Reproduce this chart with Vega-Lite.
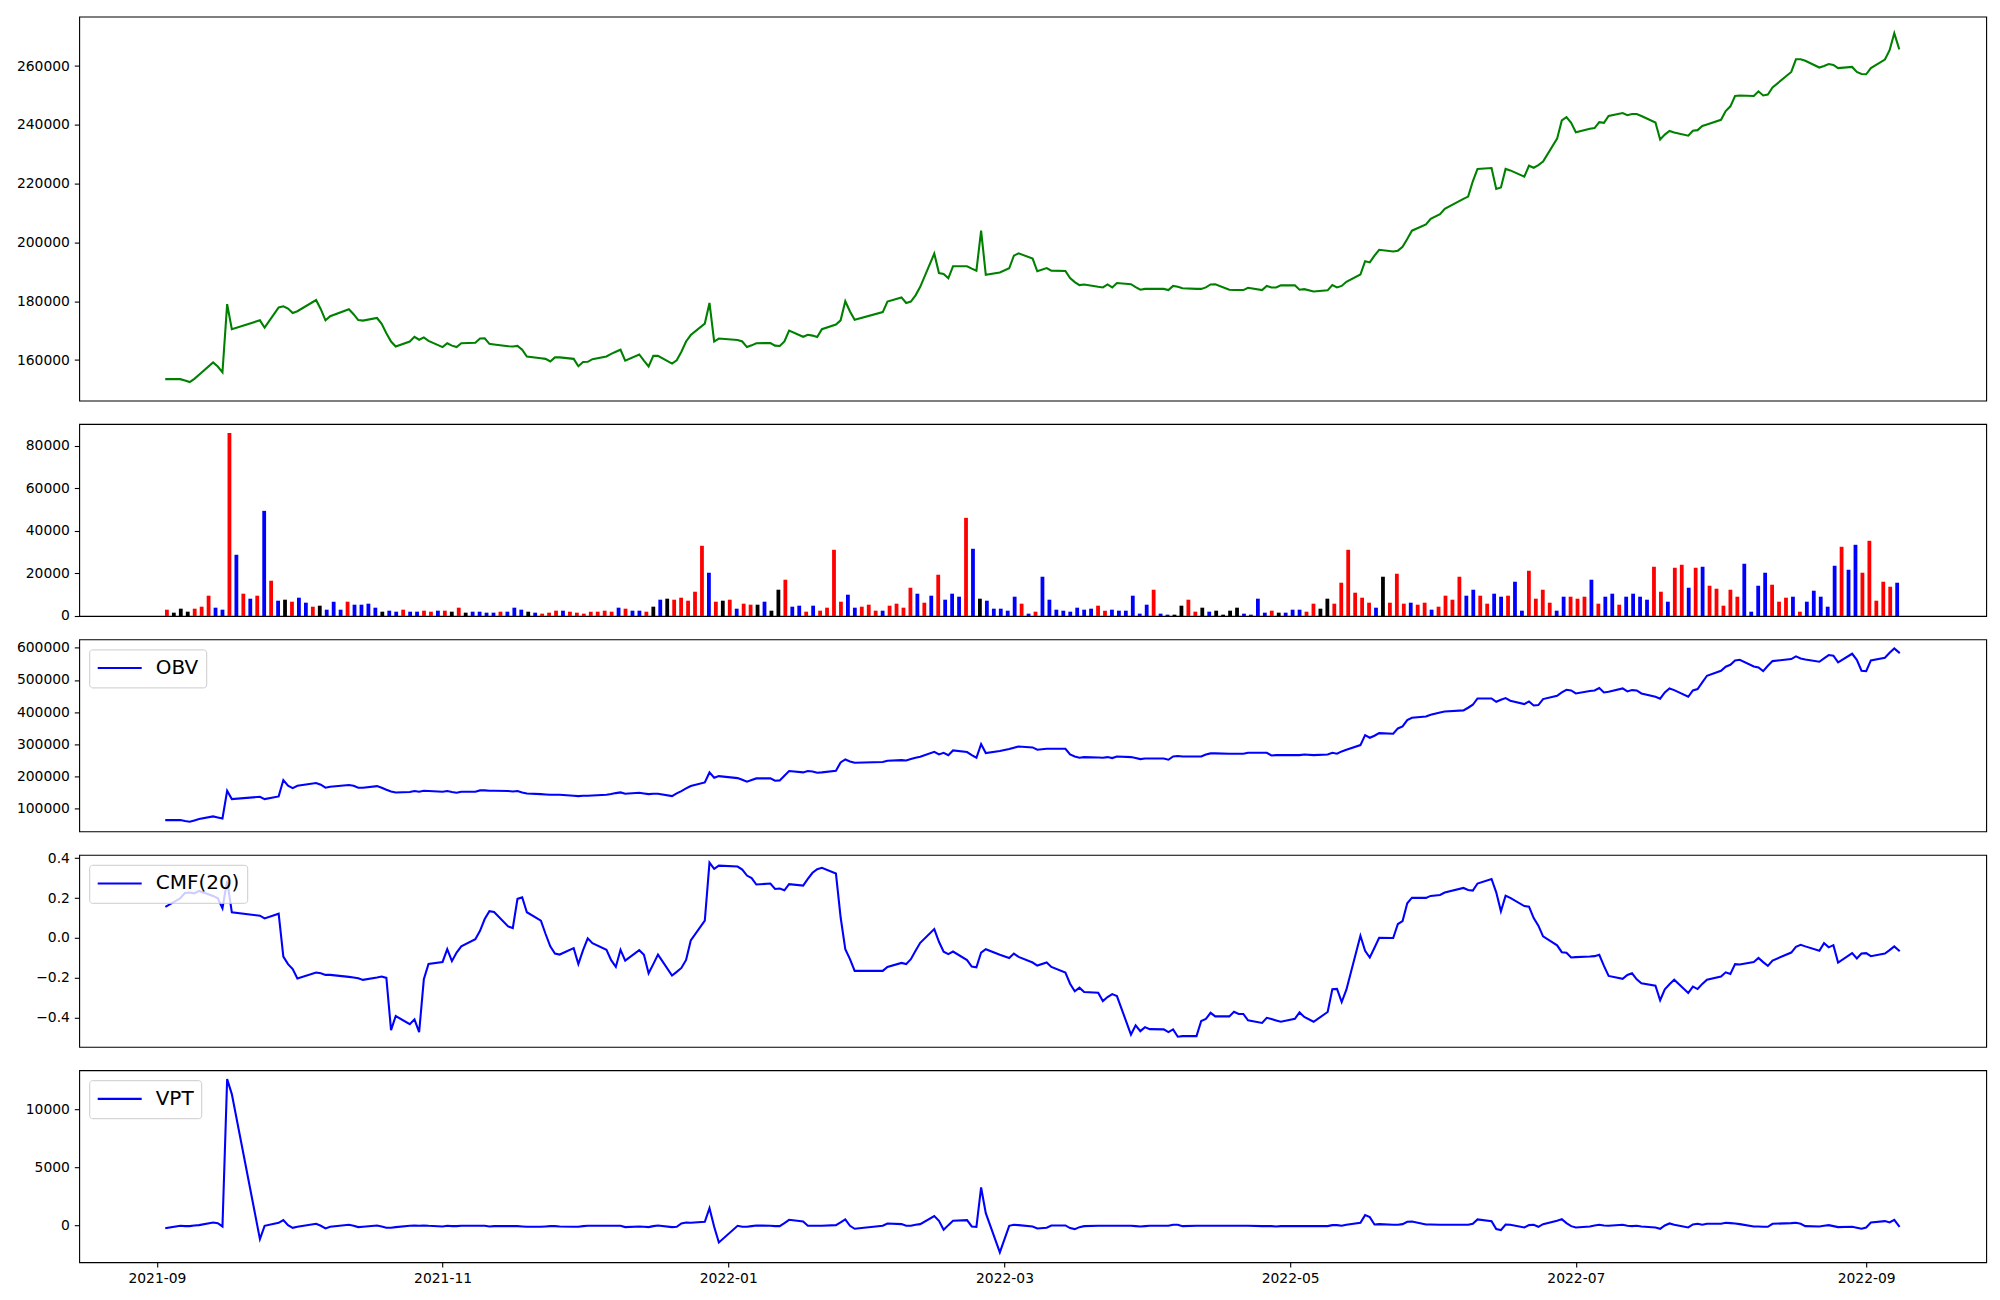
{
"$schema":"https://vega.github.io/schema/vega-lite/v6.json",
"background":"white",
"padding":{"left":15.2,"top":15.6,"right":10,"bottom":10},
"spacing":23.4,
"bounds":"flush",
"config":{
"view":{"stroke":"#000000","strokeWidth":1.1},
"axis":{"labelFont":"DejaVu Sans","labelFontSize":13.9,"labelColor":"#000000","tickColor":"#000000","tickSize":4.9,"tickWidth":1.1,"labelPadding":4.9,"domain":false,"grid":false,"labelFlush":false,"labelOverlap":false},
"legend":{"orient":"top-left","offset":10,"padding":7,"strokeColor":"#cccccc","fillColor":"rgba(255,255,255,0.8)","cornerRadius":3,"labelFont":"DejaVu Sans","labelFontSize":20,"labelColor":"#000000","symbolType":"stroke","symbolSize":1936,"symbolStrokeWidth":2.08,"labelOffset":12.5,"clipHeight":23.3}
},
"resolve":{"scale":{"x":"independent","y":"independent","color":"independent"},"legend":{"color":"independent"}},
"datasets":{"d":[
{"date":"2021-09-03","close":153500,"vol":2970,"dir":"up","obv":63900,"cmf":0.159,"vpt":-215},
{"date":"2021-09-06","close":153500,"vol":1570,"dir":"flat","obv":63900,"cmf":0.199,"vpt":-15},
{"date":"2021-09-07","close":153000,"vol":3440,"dir":"flat","obv":60800,"cmf":0.226,"vpt":-43},
{"date":"2021-09-08","close":152500,"vol":2030,"dir":"flat","obv":58800,"cmf":0.228,"vpt":-43},
{"date":"2021-09-09","close":153600,"vol":3440,"dir":"up","obv":63000,"cmf":0.224,"vpt":14},
{"date":"2021-09-10","close":155000,"vol":4380,"dir":"up","obv":67100,"cmf":0.236,"vpt":43},
{"date":"2021-09-13","close":159200,"vol":9550,"dir":"up","obv":75300,"cmf":0.211,"vpt":273},
{"date":"2021-09-14","close":157800,"vol":3910,"dir":"down","obv":72300,"cmf":0.199,"vpt":215},
{"date":"2021-09-15","close":155800,"vol":2970,"dir":"down","obv":69100,"cmf":0.149,"vpt":-72},
{"date":"2021-09-16","close":179000,"vol":86080,"dir":"up","obv":155200,"cmf":0.288,"vpt":12620},
{"date":"2021-09-17","close":170500,"vol":28800,"dir":"down","obv":129300,"cmf":0.129,"vpt":11330},
{"date":"2021-09-23","close":173500,"vol":10490,"dir":"up","obv":136500,"cmf":0.112,"vpt":-1160},
{"date":"2021-09-24","close":171000,"vol":8140,"dir":"down","obv":129300,"cmf":0.098,"vpt":-15},
{"date":"2021-09-27","close":177900,"vol":9550,"dir":"up","obv":137600,"cmf":0.122,"vpt":244},
{"date":"2021-09-28","close":178300,"vol":49450,"dir":"down","obv":188400,"cmf":-0.093,"vpt":474},
{"date":"2021-09-29","close":177500,"vol":16590,"dir":"up","obv":170800,"cmf":-0.131,"vpt":43},
{"date":"2021-09-30","close":176000,"vol":7200,"dir":"down","obv":163500,"cmf":-0.156,"vpt":-187},
{"date":"2021-10-01","close":176600,"vol":7670,"dir":"flat","obv":170800,"cmf":-0.203,"vpt":-100},
{"date":"2021-10-05","close":180400,"vol":6730,"dir":"up","obv":179100,"cmf":-0.173,"vpt":158},
{"date":"2021-10-06","close":177300,"vol":8610,"dir":"down","obv":173900,"cmf":-0.177,"vpt":-15},
{"date":"2021-10-07","close":173500,"vol":6260,"dir":"down","obv":164600,"cmf":-0.185,"vpt":-244},
{"date":"2021-10-08","close":174900,"vol":4380,"dir":"up","obv":167700,"cmf":-0.185,"vpt":-100},
{"date":"2021-10-12","close":177300,"vol":4850,"dir":"flat","obv":172900,"cmf":-0.195,"vpt":72},
{"date":"2021-10-13","close":175600,"vol":2970,"dir":"down","obv":170800,"cmf":-0.198,"vpt":-15},
{"date":"2021-10-14","close":173600,"vol":6730,"dir":"down","obv":164600,"cmf":-0.202,"vpt":-129},
{"date":"2021-10-15","close":173400,"vol":2970,"dir":"down","obv":164600,"cmf":-0.210,"vpt":-100},
{"date":"2021-10-18","close":174300,"vol":6730,"dir":"up","obv":169700,"cmf":-0.198,"vpt":14},
{"date":"2021-10-19","close":172300,"vol":5320,"dir":"down","obv":164600,"cmf":-0.193,"vpt":-72},
{"date":"2021-10-20","close":169100,"vol":5320,"dir":"down","obv":158300,"cmf":-0.200,"vpt":-187},
{"date":"2021-10-21","close":166300,"vol":5790,"dir":"down","obv":153100,"cmf":-0.462,"vpt":-187},
{"date":"2021-10-22","close":164600,"vol":3910,"dir":"down","obv":150000,"cmf":-0.391,"vpt":-129},
{"date":"2021-10-25","close":166300,"vol":2030,"dir":"flat","obv":151100,"cmf":-0.432,"vpt":-15},
{"date":"2021-10-26","close":167900,"vol":2500,"dir":"down","obv":154200,"cmf":-0.408,"vpt":14},
{"date":"2021-10-27","close":166900,"vol":2030,"dir":"down","obv":152100,"cmf":-0.472,"vpt":-15},
{"date":"2021-10-28","close":167700,"vol":2970,"dir":"up","obv":155200,"cmf":-0.207,"vpt":14},
{"date":"2021-10-29","close":166500,"vol":2030,"dir":"down","obv":154200,"cmf":-0.130,"vpt":-15},
{"date":"2021-11-01","close":164400,"vol":2030,"dir":"down","obv":152100,"cmf":-0.120,"vpt":-72},
{"date":"2021-11-02","close":165700,"vol":2500,"dir":"up","obv":154200,"cmf":-0.056,"vpt":-15},
{"date":"2021-11-03","close":164900,"vol":2030,"dir":"up","obv":151100,"cmf":-0.116,"vpt":-43},
{"date":"2021-11-04","close":164400,"vol":2500,"dir":"down","obv":149000,"cmf":-0.073,"vpt":-43},
{"date":"2021-11-05","close":165700,"vol":2500,"dir":"up","obv":152100,"cmf":-0.042,"vpt":-15},
{"date":"2021-11-08","close":165900,"vol":2030,"dir":"flat","obv":152100,"cmf":-0.006,"vpt":-15},
{"date":"2021-11-09","close":167300,"vol":3910,"dir":"up","obv":156300,"cmf":0.036,"vpt":-15},
{"date":"2021-11-10","close":167400,"vol":1570,"dir":"flat","obv":156300,"cmf":0.095,"vpt":-15},
{"date":"2021-11-11","close":165500,"vol":2030,"dir":"down","obv":155200,"cmf":0.134,"vpt":-72},
{"date":"2021-11-12","close":165300,"vol":2030,"dir":"down","obv":155200,"cmf":0.130,"vpt":-43},
{"date":"2021-11-15","close":164700,"vol":1570,"dir":"down","obv":154200,"cmf":0.058,"vpt":-43},
{"date":"2021-11-16","close":164600,"vol":1570,"dir":"down","obv":153100,"cmf":0.050,"vpt":-43},
{"date":"2021-11-17","close":164800,"vol":2030,"dir":"up","obv":154200,"cmf":0.196,"vpt":-43},
{"date":"2021-11-18","close":163500,"vol":2030,"dir":"down","obv":150000,"cmf":0.204,"vpt":-72},
{"date":"2021-11-19","close":161200,"vol":3910,"dir":"down","obv":146900,"cmf":0.129,"vpt":-100},
{"date":"2021-11-22","close":160600,"vol":2970,"dir":"down","obv":144800,"cmf":0.087,"vpt":-100},
{"date":"2021-11-23","close":160400,"vol":2030,"dir":"flat","obv":143800,"cmf":0.020,"vpt":-72},
{"date":"2021-11-24","close":159500,"vol":1570,"dir":"down","obv":142800,"cmf":-0.042,"vpt":-43},
{"date":"2021-11-25","close":160900,"vol":1100,"dir":"up","obv":142800,"cmf":-0.078,"vpt":-43},
{"date":"2021-11-26","close":160900,"vol":1570,"dir":"up","obv":142800,"cmf":-0.083,"vpt":-72},
{"date":"2021-11-29","close":160400,"vol":2500,"dir":"up","obv":139700,"cmf":-0.051,"vpt":-100},
{"date":"2021-11-30","close":157900,"vol":2500,"dir":"down","obv":138600,"cmf":-0.131,"vpt":-100},
{"date":"2021-12-01","close":159300,"vol":2030,"dir":"up","obv":139700,"cmf":-0.061,"vpt":-43},
{"date":"2021-12-02","close":159400,"vol":1570,"dir":"up","obv":139700,"cmf":-0.002,"vpt":-15},
{"date":"2021-12-03","close":160300,"vol":1100,"dir":"up","obv":140700,"cmf":-0.026,"vpt":-15},
{"date":"2021-12-06","close":161200,"vol":2030,"dir":"up","obv":142800,"cmf":-0.059,"vpt":-15},
{"date":"2021-12-07","close":162100,"vol":2030,"dir":"up","obv":144800,"cmf":-0.111,"vpt":-15},
{"date":"2021-12-08","close":162800,"vol":2500,"dir":"up","obv":147900,"cmf":-0.145,"vpt":-15},
{"date":"2021-12-09","close":163500,"vol":2030,"dir":"up","obv":150000,"cmf":-0.059,"vpt":-15},
{"date":"2021-12-10","close":159800,"vol":3910,"dir":"down","obv":145900,"cmf":-0.113,"vpt":-129},
{"date":"2021-12-13","close":161900,"vol":3440,"dir":"up","obv":149000,"cmf":-0.061,"vpt":-72},
{"date":"2021-12-14","close":159800,"vol":2500,"dir":"down","obv":146900,"cmf":-0.084,"vpt":-100},
{"date":"2021-12-15","close":157800,"vol":2500,"dir":"down","obv":144800,"cmf":-0.177,"vpt":-129},
{"date":"2021-12-16","close":161400,"vol":2030,"dir":"up","obv":145900,"cmf":-0.131,"vpt":-43},
{"date":"2021-12-17","close":161400,"vol":4380,"dir":"flat","obv":145900,"cmf":-0.083,"vpt":14},
{"date":"2021-12-20","close":158800,"vol":7670,"dir":"down","obv":138600,"cmf":-0.188,"vpt":-129},
{"date":"2021-12-21","close":159900,"vol":8140,"dir":"flat","obv":146900,"cmf":-0.170,"vpt":-100},
{"date":"2021-12-22","close":162800,"vol":7670,"dir":"up","obv":154200,"cmf":-0.150,"vpt":187},
{"date":"2021-12-23","close":166300,"vol":8610,"dir":"up","obv":162500,"cmf":-0.110,"vpt":273},
{"date":"2021-12-24","close":168500,"vol":7200,"dir":"up","obv":169700,"cmf":-0.012,"vpt":244},
{"date":"2021-12-27","close":172400,"vol":11420,"dir":"up","obv":181100,"cmf":0.087,"vpt":330},
{"date":"2021-12-28","close":179400,"vol":33020,"dir":"up","obv":212200,"cmf":0.378,"vpt":1507},
{"date":"2021-12-29","close":166300,"vol":20350,"dir":"down","obv":195600,"cmf":0.347,"vpt":-100},
{"date":"2021-12-30","close":167300,"vol":6730,"dir":"up","obv":200800,"cmf":0.363,"vpt":-1450},
{"date":"2022-01-03","close":166800,"vol":7200,"dir":"flat","obv":194600,"cmf":0.358,"vpt":-15},
{"date":"2022-01-04","close":166300,"vol":7670,"dir":"up","obv":189400,"cmf":0.343,"vpt":-100},
{"date":"2022-01-05","close":164400,"vol":3440,"dir":"down","obv":183200,"cmf":0.313,"vpt":-100},
{"date":"2022-01-06","close":165000,"vol":5790,"dir":"up","obv":188400,"cmf":0.300,"vpt":-43},
{"date":"2022-01-07","close":165700,"vol":5320,"dir":"up","obv":193600,"cmf":0.268,"vpt":14},
{"date":"2022-01-10","close":165800,"vol":5320,"dir":"flat","obv":193600,"cmf":0.273,"vpt":-15},
{"date":"2022-01-11","close":164900,"vol":6730,"dir":"down","obv":186300,"cmf":0.246,"vpt":-43},
{"date":"2022-01-12","close":164800,"vol":2500,"dir":"flat","obv":187400,"cmf":0.248,"vpt":-43},
{"date":"2022-01-13","close":166300,"vol":12360,"dir":"flat","obv":201900,"cmf":0.239,"vpt":215},
{"date":"2022-01-14","close":170000,"vol":17060,"dir":"up","obv":216400,"cmf":0.270,"vpt":502},
{"date":"2022-01-17","close":167900,"vol":4380,"dir":"down","obv":212300,"cmf":0.263,"vpt":359},
{"date":"2022-01-18","close":168600,"vol":4850,"dir":"down","obv":216400,"cmf":0.296,"vpt":-15},
{"date":"2022-01-19","close":168300,"vol":2030,"dir":"up","obv":215400,"cmf":0.327,"vpt":-15},
{"date":"2022-01-20","close":167800,"vol":4850,"dir":"down","obv":211200,"cmf":0.345,"vpt":-15},
{"date":"2022-01-21","close":170500,"vol":2500,"dir":"up","obv":212300,"cmf":0.352,"vpt":-15},
{"date":"2022-01-24","close":172100,"vol":3910,"dir":"up","obv":217400,"cmf":0.323,"vpt":43},
{"date":"2022-01-25","close":173500,"vol":31140,"dir":"up","obv":243400,"cmf":0.104,"vpt":273},
{"date":"2022-01-26","close":180000,"vol":6730,"dir":"up","obv":252700,"cmf":-0.056,"vpt":531},
{"date":"2022-01-27","close":176500,"vol":10020,"dir":"down","obv":246500,"cmf":-0.106,"vpt":-15},
{"date":"2022-01-28","close":173700,"vol":3910,"dir":"down","obv":242300,"cmf":-0.165,"vpt":-273},
{"date":"2022-02-03","close":176300,"vol":4380,"dir":"up","obv":244400,"cmf":-0.165,"vpt":-15},
{"date":"2022-02-04","close":179900,"vol":5320,"dir":"up","obv":248500,"cmf":-0.145,"vpt":187},
{"date":"2022-02-07","close":181300,"vol":2500,"dir":"up","obv":250600,"cmf":-0.125,"vpt":129},
{"date":"2022-02-08","close":179400,"vol":2500,"dir":"down","obv":249600,"cmf":-0.131,"vpt":-15},
{"date":"2022-02-09","close":179900,"vol":4850,"dir":"up","obv":253700,"cmf":-0.106,"vpt":-15},
{"date":"2022-02-10","close":182000,"vol":5790,"dir":"up","obv":257900,"cmf":-0.064,"vpt":72},
{"date":"2022-02-11","close":184900,"vol":3910,"dir":"up","obv":261000,"cmf":-0.024,"vpt":129},
{"date":"2022-02-14","close":196200,"vol":13300,"dir":"up","obv":276500,"cmf":0.045,"vpt":818},
{"date":"2022-02-15","close":189600,"vol":10490,"dir":"down","obv":268200,"cmf":-0.019,"vpt":416},
{"date":"2022-02-16","close":189300,"vol":6260,"dir":"up","obv":273400,"cmf":-0.069,"vpt":-359},
{"date":"2022-02-17","close":187800,"vol":9550,"dir":"down","obv":266100,"cmf":-0.081,"vpt":43},
{"date":"2022-02-18","close":191900,"vol":19410,"dir":"up","obv":280700,"cmf":-0.068,"vpt":416},
{"date":"2022-02-21","close":191900,"vol":7670,"dir":"down","obv":275500,"cmf":-0.111,"vpt":474},
{"date":"2022-02-22","close":191100,"vol":10490,"dir":"down","obv":266100,"cmf":-0.143,"vpt":-72},
{"date":"2022-02-23","close":190400,"vol":9080,"dir":"down","obv":257900,"cmf":-0.147,"vpt":-100},
{"date":"2022-02-24","close":204000,"vol":46170,"dir":"up","obv":300400,"cmf":-0.073,"vpt":3287},
{"date":"2022-02-25","close":189000,"vol":31610,"dir":"down","obv":272400,"cmf":-0.056,"vpt":1077},
{"date":"2022-02-28","close":189800,"vol":8140,"dir":"flat","obv":278600,"cmf":-0.084,"vpt":-2311},
{"date":"2022-03-02","close":191200,"vol":7200,"dir":"down","obv":284800,"cmf":-0.100,"vpt":-15},
{"date":"2022-03-03","close":195500,"vol":3440,"dir":"down","obv":289000,"cmf":-0.078,"vpt":72},
{"date":"2022-03-04","close":196300,"vol":3440,"dir":"down","obv":293100,"cmf":-0.095,"vpt":43},
{"date":"2022-03-07","close":194500,"vol":2500,"dir":"down","obv":290000,"cmf":-0.123,"vpt":-72},
{"date":"2022-03-08","close":190200,"vol":9080,"dir":"down","obv":282800,"cmf":-0.138,"vpt":-244},
{"date":"2022-03-10","close":191300,"vol":5790,"dir":"up","obv":285900,"cmf":-0.123,"vpt":-187},
{"date":"2022-03-11","close":190400,"vol":1100,"dir":"down","obv":285900,"cmf":-0.145,"vpt":14},
{"date":"2022-03-14","close":190300,"vol":2030,"dir":"up","obv":285900,"cmf":-0.173,"vpt":14},
{"date":"2022-03-15","close":187900,"vol":18470,"dir":"down","obv":268200,"cmf":-0.229,"vpt":-215},
{"date":"2022-03-16","close":186500,"vol":7670,"dir":"down","obv":262000,"cmf":-0.267,"vpt":-301},
{"date":"2022-03-17","close":185500,"vol":2970,"dir":"down","obv":257900,"cmf":-0.249,"vpt":-129},
{"date":"2022-03-18","close":185700,"vol":2500,"dir":"down","obv":259900,"cmf":-0.271,"vpt":-43},
{"date":"2022-03-21","close":184900,"vol":2030,"dir":"down","obv":258900,"cmf":-0.274,"vpt":-15},
{"date":"2022-03-22","close":184700,"vol":3910,"dir":"down","obv":257900,"cmf":-0.316,"vpt":-15},
{"date":"2022-03-23","close":185700,"vol":2970,"dir":"down","obv":259900,"cmf":-0.296,"vpt":-15},
{"date":"2022-03-24","close":184700,"vol":3440,"dir":"down","obv":256800,"cmf":-0.281,"vpt":-15},
{"date":"2022-03-25","close":186200,"vol":4850,"dir":"up","obv":262000,"cmf":-0.291,"vpt":-15},
{"date":"2022-03-28","close":185800,"vol":2500,"dir":"up","obv":259900,"cmf":-0.484,"vpt":-15},
{"date":"2022-03-29","close":184800,"vol":2970,"dir":"down","obv":256800,"cmf":-0.438,"vpt":-43},
{"date":"2022-03-30","close":183900,"vol":2500,"dir":"down","obv":253700,"cmf":-0.467,"vpt":-72},
{"date":"2022-03-31","close":184200,"vol":2500,"dir":"down","obv":255800,"cmf":-0.447,"vpt":-43},
{"date":"2022-04-01","close":184200,"vol":9550,"dir":"down","obv":255800,"cmf":-0.457,"vpt":-15},
{"date":"2022-04-04","close":184200,"vol":1100,"dir":"down","obv":255800,"cmf":-0.458,"vpt":-15},
{"date":"2022-04-05","close":183800,"vol":5320,"dir":"down","obv":251700,"cmf":-0.472,"vpt":-15},
{"date":"2022-04-06","close":185200,"vol":12360,"dir":"up","obv":262000,"cmf":-0.458,"vpt":72},
{"date":"2022-04-07","close":184900,"vol":1100,"dir":"down","obv":263100,"cmf":-0.495,"vpt":72},
{"date":"2022-04-08","close":184400,"vol":630,"dir":"down","obv":262000,"cmf":-0.492,"vpt":-43},
{"date":"2022-04-11","close":184200,"vol":630,"dir":"flat","obv":262000,"cmf":-0.492,"vpt":-15},
{"date":"2022-04-12","close":184200,"vol":4850,"dir":"flat","obv":262000,"cmf":-0.416,"vpt":-15},
{"date":"2022-04-13","close":184700,"vol":7670,"dir":"up","obv":268200,"cmf":-0.406,"vpt":-15},
{"date":"2022-04-14","close":185700,"vol":2030,"dir":"up","obv":271400,"cmf":-0.375,"vpt":-15},
{"date":"2022-04-15","close":185800,"vol":3910,"dir":"flat","obv":271400,"cmf":-0.393,"vpt":-15},
{"date":"2022-04-18","close":183900,"vol":2030,"dir":"down","obv":270300,"cmf":-0.393,"vpt":-15},
{"date":"2022-04-19","close":183800,"vol":2500,"dir":"flat","obv":270300,"cmf":-0.370,"vpt":-15},
{"date":"2022-04-20","close":183800,"vol":630,"dir":"flat","obv":270300,"cmf":-0.381,"vpt":-15},
{"date":"2022-04-21","close":183800,"vol":2500,"dir":"flat","obv":270300,"cmf":-0.381,"vpt":-15},
{"date":"2022-04-22","close":184600,"vol":3910,"dir":"flat","obv":273400,"cmf":-0.413,"vpt":-15},
{"date":"2022-04-25","close":183800,"vol":1100,"dir":"down","obv":273400,"cmf":-0.426,"vpt":-43},
{"date":"2022-04-26","close":185200,"vol":630,"dir":"down","obv":273400,"cmf":-0.400,"vpt":-43},
{"date":"2022-04-27","close":184700,"vol":8140,"dir":"down","obv":265100,"cmf":-0.406,"vpt":-43},
{"date":"2022-04-28","close":184700,"vol":1570,"dir":"down","obv":266100,"cmf":-0.413,"vpt":-72},
{"date":"2022-04-29","close":185400,"vol":2500,"dir":"up","obv":266100,"cmf":-0.420,"vpt":-43},
{"date":"2022-05-02","close":185400,"vol":1570,"dir":"flat","obv":266100,"cmf":-0.405,"vpt":-43},
{"date":"2022-05-03","close":183900,"vol":1570,"dir":"down","obv":266100,"cmf":-0.373,"vpt":-43},
{"date":"2022-05-04","close":184100,"vol":2970,"dir":"down","obv":268200,"cmf":-0.396,"vpt":-43},
{"date":"2022-05-06","close":183300,"vol":2970,"dir":"down","obv":266100,"cmf":-0.420,"vpt":-43},
{"date":"2022-05-09","close":183700,"vol":2030,"dir":"up","obv":268200,"cmf":-0.371,"vpt":-43},
{"date":"2022-05-10","close":185500,"vol":5790,"dir":"up","obv":273400,"cmf":-0.257,"vpt":43},
{"date":"2022-05-11","close":184700,"vol":3440,"dir":"flat","obv":270300,"cmf":-0.255,"vpt":43},
{"date":"2022-05-12","close":185200,"vol":8140,"dir":"flat","obv":277600,"cmf":-0.321,"vpt":-15},
{"date":"2022-05-13","close":186600,"vol":5790,"dir":"up","obv":282800,"cmf":-0.259,"vpt":72},
{"date":"2022-05-16","close":189100,"vol":15650,"dir":"up","obv":297300,"cmf":0.011,"vpt":244},
{"date":"2022-05-17","close":193600,"vol":31140,"dir":"up","obv":328400,"cmf":-0.064,"vpt":904},
{"date":"2022-05-18","close":193200,"vol":10960,"dir":"up","obv":320100,"cmf":-0.098,"vpt":732},
{"date":"2022-05-19","close":195500,"vol":8610,"dir":"up","obv":326300,"cmf":-0.049,"vpt":100},
{"date":"2022-05-20","close":197500,"vol":6260,"dir":"up","obv":334600,"cmf":0.001,"vpt":129},
{"date":"2022-05-23","close":196900,"vol":3910,"dir":"down","obv":332500,"cmf":0.000,"vpt":72},
{"date":"2022-05-24","close":197200,"vol":18470,"dir":"flat","obv":349100,"cmf":0.070,"vpt":72},
{"date":"2022-05-25","close":198500,"vol":6260,"dir":"up","obv":355400,"cmf":0.085,"vpt":129},
{"date":"2022-05-26","close":201200,"vol":19880,"dir":"up","obv":375100,"cmf":0.174,"vpt":330},
{"date":"2022-05-27","close":204000,"vol":5790,"dir":"up","obv":382300,"cmf":0.202,"vpt":359},
{"date":"2022-05-30","close":206100,"vol":6260,"dir":"down","obv":386500,"cmf":0.201,"vpt":100},
{"date":"2022-05-31","close":208000,"vol":5320,"dir":"up","obv":391600,"cmf":0.211,"vpt":100},
{"date":"2022-06-02","close":209600,"vol":6260,"dir":"up","obv":398900,"cmf":0.216,"vpt":72},
{"date":"2022-06-03","close":211400,"vol":2970,"dir":"down","obv":402000,"cmf":0.228,"vpt":72},
{"date":"2022-06-07","close":214800,"vol":4380,"dir":"up","obv":405200,"cmf":0.251,"vpt":72},
{"date":"2022-06-08","close":215600,"vol":9550,"dir":"up","obv":413500,"cmf":0.241,"vpt":72},
{"date":"2022-06-09","close":220800,"vol":7670,"dir":"up","obv":422800,"cmf":0.238,"vpt":158},
{"date":"2022-06-10","close":225000,"vol":18470,"dir":"up","obv":442500,"cmf":0.273,"vpt":531},
{"date":"2022-06-13","close":225300,"vol":9550,"dir":"down","obv":442500,"cmf":0.296,"vpt":388},
{"date":"2022-06-14","close":218200,"vol":12360,"dir":"down","obv":432100,"cmf":0.229,"vpt":-301},
{"date":"2022-06-15","close":218700,"vol":9550,"dir":"up","obv":438300,"cmf":0.134,"vpt":-388},
{"date":"2022-06-16","close":225000,"vol":5790,"dir":"up","obv":443500,"cmf":0.212,"vpt":100},
{"date":"2022-06-17","close":224500,"vol":10490,"dir":"down","obv":435200,"cmf":0.201,"vpt":72},
{"date":"2022-06-20","close":222400,"vol":9080,"dir":"down","obv":424900,"cmf":0.160,"vpt":-158},
{"date":"2022-06-21","close":226100,"vol":9550,"dir":"up","obv":433200,"cmf":0.157,"vpt":43},
{"date":"2022-06-22","close":225400,"vol":16120,"dir":"down","obv":420700,"cmf":0.100,"vpt":72},
{"date":"2022-06-23","close":226300,"vol":2500,"dir":"down","obv":421700,"cmf":0.062,"vpt":-100},
{"date":"2022-06-24","close":227500,"vol":21280,"dir":"up","obv":440400,"cmf":0.008,"vpt":129},
{"date":"2022-06-27","close":235300,"vol":8140,"dir":"up","obv":450800,"cmf":-0.037,"vpt":416},
{"date":"2022-06-28","close":241500,"vol":12360,"dir":"up","obv":461200,"cmf":-0.071,"vpt":560},
{"date":"2022-06-29","close":242600,"vol":6260,"dir":"up","obv":469400,"cmf":-0.074,"vpt":215},
{"date":"2022-06-30","close":240700,"vol":2500,"dir":"down","obv":467400,"cmf":-0.098,"vpt":-43},
{"date":"2022-07-01","close":237500,"vol":9080,"dir":"down","obv":458000,"cmf":-0.096,"vpt":-158},
{"date":"2022-07-04","close":238700,"vol":9080,"dir":"up","obv":465300,"cmf":-0.093,"vpt":-72},
{"date":"2022-07-05","close":238900,"vol":8140,"dir":"up","obv":467400,"cmf":-0.091,"vpt":14},
{"date":"2022-07-06","close":240900,"vol":9080,"dir":"up","obv":474600,"cmf":-0.084,"vpt":72},
{"date":"2022-07-07","close":240700,"vol":17060,"dir":"down","obv":461200,"cmf":-0.140,"vpt":14},
{"date":"2022-07-08","close":243000,"vol":5790,"dir":"up","obv":463200,"cmf":-0.190,"vpt":-15},
{"date":"2022-07-11","close":244000,"vol":9080,"dir":"down","obv":473600,"cmf":-0.205,"vpt":72},
{"date":"2022-07-12","close":243300,"vol":10490,"dir":"down","obv":464300,"cmf":-0.185,"vpt":-15},
{"date":"2022-07-13","close":243700,"vol":5320,"dir":"up","obv":468400,"cmf":-0.177,"vpt":-43},
{"date":"2022-07-14","close":243700,"vol":9080,"dir":"down","obv":467400,"cmf":-0.207,"vpt":-15},
{"date":"2022-07-15","close":243000,"vol":10490,"dir":"down","obv":458000,"cmf":-0.227,"vpt":-72},
{"date":"2022-07-18","close":240800,"vol":9080,"dir":"down","obv":447700,"cmf":-0.239,"vpt":-158},
{"date":"2022-07-19","close":235000,"vol":7670,"dir":"down","obv":441500,"cmf":-0.312,"vpt":-273},
{"date":"2022-07-20","close":236700,"vol":23160,"dir":"up","obv":461200,"cmf":-0.257,"vpt":14},
{"date":"2022-07-21","close":237900,"vol":11420,"dir":"up","obv":473600,"cmf":-0.232,"vpt":187},
{"date":"2022-07-22","close":237400,"vol":6730,"dir":"down","obv":468400,"cmf":-0.209,"vpt":72},
{"date":"2022-07-25","close":236300,"vol":22690,"dir":"up","obv":447700,"cmf":-0.276,"vpt":-158},
{"date":"2022-07-26","close":238000,"vol":24100,"dir":"up","obv":467400,"cmf":-0.244,"vpt":100},
{"date":"2022-07-27","close":238200,"vol":13300,"dir":"down","obv":471500,"cmf":-0.256,"vpt":158},
{"date":"2022-07-28","close":239600,"vol":22690,"dir":"up","obv":492300,"cmf":-0.230,"vpt":72},
{"date":"2022-07-29","close":240100,"vol":23160,"dir":"down","obv":513000,"cmf":-0.209,"vpt":158},
{"date":"2022-08-01","close":241700,"vol":14240,"dir":"up","obv":528600,"cmf":-0.193,"vpt":158},
{"date":"2022-08-02","close":244700,"vol":12830,"dir":"up","obv":541000,"cmf":-0.172,"vpt":244},
{"date":"2022-08-03","close":246300,"vol":4850,"dir":"up","obv":547200,"cmf":-0.180,"vpt":215},
{"date":"2022-08-04","close":249800,"vol":12360,"dir":"up","obv":560700,"cmf":-0.131,"vpt":187},
{"date":"2022-08-05","close":250000,"vol":9080,"dir":"up","obv":562800,"cmf":-0.133,"vpt":129},
{"date":"2022-08-08","close":249800,"vol":24570,"dir":"down","obv":542000,"cmf":-0.120,"vpt":-72},
{"date":"2022-08-09","close":251400,"vol":2030,"dir":"down","obv":538900,"cmf":-0.100,"vpt":-72},
{"date":"2022-08-10","close":250000,"vol":14240,"dir":"down","obv":527500,"cmf":-0.121,"vpt":-100},
{"date":"2022-08-11","close":250300,"vol":20350,"dir":"down","obv":544100,"cmf":-0.140,"vpt":-100},
{"date":"2022-08-12","close":252700,"vol":14710,"dir":"up","obv":558600,"cmf":-0.113,"vpt":158},
{"date":"2022-08-16","close":258000,"vol":6730,"dir":"up","obv":564900,"cmf":-0.073,"vpt":215},
{"date":"2022-08-17","close":262300,"vol":8610,"dir":"up","obv":573200,"cmf":-0.044,"vpt":244},
{"date":"2022-08-18","close":262300,"vol":9080,"dir":"down","obv":567000,"cmf":-0.034,"vpt":158},
{"date":"2022-08-19","close":261800,"vol":2030,"dir":"up","obv":563800,"cmf":-0.042,"vpt":-43},
{"date":"2022-08-22","close":259500,"vol":6730,"dir":"down","obv":556600,"cmf":-0.064,"vpt":-72},
{"date":"2022-08-23","close":260000,"vol":11890,"dir":"down","obv":567000,"cmf":-0.026,"vpt":-15},
{"date":"2022-08-24","close":260700,"vol":9080,"dir":"down","obv":577300,"cmf":-0.047,"vpt":43},
{"date":"2022-08-25","close":260400,"vol":4380,"dir":"down","obv":575200,"cmf":-0.036,"vpt":-43},
{"date":"2022-08-26","close":259300,"vol":23630,"dir":"down","obv":554500,"cmf":-0.123,"vpt":-129},
{"date":"2022-08-29","close":259700,"vol":32550,"dir":"up","obv":581500,"cmf":-0.076,"vpt":-100},
{"date":"2022-08-30","close":258000,"vol":21750,"dir":"down","obv":562800,"cmf":-0.103,"vpt":-187},
{"date":"2022-08-31","close":257300,"vol":33490,"dir":"down","obv":528600,"cmf":-0.078,"vpt":-273},
{"date":"2022-09-01","close":257200,"vol":20350,"dir":"up","obv":527500,"cmf":-0.076,"vpt":-158},
{"date":"2022-09-02","close":259300,"vol":35370,"dir":"up","obv":560700,"cmf":-0.091,"vpt":273},
{"date":"2022-09-05","close":262200,"vol":7200,"dir":"up","obv":569000,"cmf":-0.078,"vpt":388},
{"date":"2022-09-06","close":265400,"vol":16120,"dir":"up","obv":584600,"cmf":-0.061,"vpt":273},
{"date":"2022-09-07","close":271200,"vol":13770,"dir":"up","obv":598100,"cmf":-0.042,"vpt":502},
{"date":"2022-09-08","close":266000,"vol":15650,"dir":"down","obv":585600,"cmf":-0.063,"vpt":-43}
]},
"vconcat":[
{"width":1907,"height":384,"data":{"name":"d"},
 "mark":{"type":"line","color":"#008000","strokeWidth":2.08,"strokeCap":"square"},
 "encoding":{
  "x":{"field":"date","type":"temporal","scale":{"type":"utc","domain":[{"year":2021,"month":8,"date":15,"hours":9,"minutes":47,"utc":true},{"year":2022,"month":9,"date":26,"hours":15,"utc":true}]},"axis":null},
  "y":{"field":"close","type":"quantitative","scale":{"domain":[146200,276820],"nice":false,"zero":false},"axis":{"values":[160000,180000,200000,220000,240000,260000],"format":"d","title":null}}
 }},
{"width":1907,"height":192,"data":{"name":"d"},
 "transform":[{"window":[{"op":"row_number","as":"n"}]}],
 "mark":{"type":"bar","width":3.8},
 "encoding":{
  "x":{"field":"n","type":"quantitative","scale":{"domain":[-11.62,262.81],"nice":false,"zero":false,"padding":0},"axis":null},
  "y":{"field":"vol","type":"quantitative","scale":{"domain":[0,90300],"nice":false,"padding":0},"axis":{"values":[0,20000,40000,60000,80000],"format":"d","title":null}},
  "color":{"field":"dir","type":"nominal","scale":{"domain":["up","down","flat"],"range":["#ff0000","#0000ff","#000000"]},"legend":null}
 }},
{"width":1907,"height":192,"data":{"name":"d"},
 "mark":{"type":"line","strokeWidth":2.08,"strokeCap":"square"},
 "encoding":{
  "x":{"field":"date","type":"temporal","scale":{"type":"utc","domain":[{"year":2021,"month":8,"date":15,"hours":9,"minutes":47,"utc":true},{"year":2022,"month":9,"date":26,"hours":15,"utc":true}]},"axis":null},
  "y":{"field":"obv","type":"quantitative","scale":{"domain":[28750,626130],"nice":false,"zero":false},"axis":{"values":[100000,200000,300000,400000,500000,600000],"format":"d","title":null}},
  "color":{"datum":"OBV","type":"nominal","scale":{"range":["#0000ff"]},"legend":{"title":null}}
 }},
{"width":1907,"height":192,"data":{"name":"d"},
 "mark":{"type":"line","strokeWidth":2.08,"strokeCap":"square"},
 "encoding":{
  "x":{"field":"date","type":"temporal","scale":{"type":"utc","domain":[{"year":2021,"month":8,"date":15,"hours":9,"minutes":47,"utc":true},{"year":2022,"month":9,"date":26,"hours":15,"utc":true}]},"axis":null},
  "y":{"field":"cmf","type":"quantitative","scale":{"domain":[-0.5454,0.4171],"nice":false,"zero":false},"axis":{"values":[-0.4,-0.2,0,0.2,0.4],"format":".1f","title":null}},
  "color":{"datum":"CMF(20)","type":"nominal","scale":{"range":["#0000ff"]},"legend":{"title":null}}
 }},
{"width":1907,"height":192,"data":{"name":"d"},
 "mark":{"type":"line","strokeWidth":2.08,"strokeCap":"square"},
 "encoding":{
  "x":{"field":"date","type":"temporal","scale":{"type":"utc","domain":[{"year":2021,"month":8,"date":15,"hours":9,"minutes":47,"utc":true},{"year":2022,"month":9,"date":26,"hours":15,"utc":true}]},"axis":{"title":null,"values":[{"year":2021,"month":9,"date":1,"utc":true},{"year":2021,"month":11,"date":1,"utc":true},{"year":2022,"month":1,"date":1,"utc":true},{"year":2022,"month":3,"date":1,"utc":true},{"year":2022,"month":5,"date":1,"utc":true},{"year":2022,"month":7,"date":1,"utc":true},{"year":2022,"month":9,"date":1,"utc":true}],"labelExpr":"utcFormat(datum.value, '%Y-%m')"}},
  "y":{"field":"vpt","type":"quantitative","scale":{"domain":[-3150,13390],"nice":false,"zero":false},"axis":{"values":[0,5000,10000],"format":"d","title":null}},
  "color":{"datum":"VPT","type":"nominal","scale":{"range":["#0000ff"]},"legend":{"title":null}}
 }}
]
}
